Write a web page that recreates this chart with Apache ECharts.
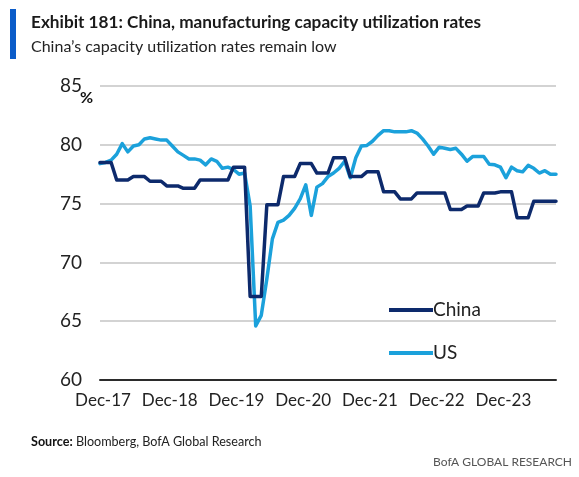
<!DOCTYPE html>
<html>
<head>
<meta charset="utf-8">
<script src="https://cdn.jsdelivr.net/npm/echarts@6/dist/echarts.min.js"></script>
<style>
html,body{margin:0;padding:0;background:#fff;}
#c{width:579px;height:477px;}
</style>
</head>
<body>
<div id="c"></div>
<script>
// ---- data ----
var monthNames = ['Jan','Feb','Mar','Apr','May','Jun','Jul','Aug','Sep','Oct','Nov','Dec'];
// monthly categories Dec-17 .. Oct-24
var categories = [];
(function(){
  var y = 2017, m = 11;
  for (var k = 0; k < 83; k++) {
    categories.push(monthNames[m] + '-' + String(y).slice(2));
    m++; if (m > 11) { m = 0; y++; }
  }
})();

var yTicks = [60, 65, 70, 75, 80, 85];

// China (quarterly, held monthly)
var china = [
  78.5, 78.5, 78.5,
  77.0, 77.0, 77.0,
  77.3, 77.3, 77.3,
  76.9, 76.9, 76.9,
  76.5, 76.5, 76.5,
  76.3, 76.3, 76.3,
  77.0, 77.0, 77.0,
  77.0, 77.0, 77.0,
  78.1, 78.1, 78.1,
  67.1, 67.1, 67.1,
  74.9, 74.9, 74.9,
  77.3, 77.3, 77.3,
  78.4, 78.4, 78.4,
  77.6, 77.6, 77.6,
  78.9, 78.9, 78.9,
  77.3, 77.3, 77.3,
  77.7, 77.7, 77.7,
  76.0, 76.0, 76.0,
  75.4, 75.4, 75.4,
  75.9, 75.9, 75.9,
  75.9, 75.9, 75.9,
  74.5, 74.5, 74.5,
  74.8, 74.8, 74.8,
  75.9, 75.9, 75.9,
  76.0, 76.0, 76.0,
  73.8, 73.8, 73.8,
  75.2, 75.2, 75.2,
  75.2, 75.2
];

// US (monthly)
var us = [
  78.4, 78.5, 78.7, 79.2, 80.1, 79.4, 79.9, 80.0, 80.5, 80.6, 80.5, 80.4,
  80.4, 79.9, 79.4, 79.1, 78.8, 78.8, 78.7, 78.3, 78.8, 78.6, 78.0, 78.1,
  77.9, 77.5, 77.6, 74.8, 64.6, 65.5, 68.6, 72.0, 73.4, 73.6, 74.0, 74.6,
  75.4, 76.6, 74.0, 76.4, 76.7, 77.3, 77.6, 78.0, 78.6, 77.2, 78.9, 79.9,
  79.95, 80.3, 80.8, 81.2, 81.2, 81.1, 81.1, 81.1, 81.2, 81.0, 80.5, 79.9,
  79.2, 79.8, 79.7, 79.6, 79.7, 79.2, 78.6, 79.0, 79.0, 79.0, 78.35, 78.3,
  78.1, 77.2, 78.1, 77.8, 77.7, 78.25, 78.0, 77.6, 77.8, 77.5, 77.5
];

var FONT = 'Lato, "Liberation Sans", sans-serif';
var chinaColor = '#0d2a6c';
var usColor = '#1ba1db';

var chart = echarts.init(document.getElementById('c'), null, {renderer: 'canvas'});
chart.setOption({
  animation: false,
  backgroundColor: '#ffffff',
  grid: {left: 100, right: 23, top: 86, bottom: 97, containLabel: false},
  xAxis: {
    type: 'category',
    data: categories,
    boundaryGap: false,
    axisLine: {show: true, lineStyle: {color: '#2b2b2b', width: 2}},
    axisTick: {show: false},
    axisLabel: {
      interval: function (i) { return i % 12 === 0; },
      fontFamily: FONT, fontSize: 17, color: '#222', margin: 12,
      padding: [0, 0, 0, 6]
    },
    splitLine: {show: false}
  },
  yAxis: {
    type: 'value',
    min: yTicks[0], max: yTicks[yTicks.length - 1], interval: 5,
    axisLine: {show: false},
    axisTick: {show: false},
    axisLabel: {fontFamily: FONT, fontSize: 19, color: '#222', margin: 18},
    splitLine: {show: true, lineStyle: {color: '#c4c4c4', width: 1.5}}
  },
  legend: {
    orient: 'vertical',
    left: 384, top: 295,
    itemWidth: 44, itemHeight: 4,
    itemGap: 23,
    icon: 'rect',
    textStyle: {fontFamily: FONT, fontSize: 19, color: '#222', lineHeight: 20, padding: [0,0,0,-5]},
    data: ['China', 'US']
  },
  series: [
    {name: 'US', type: 'line', data: us, showSymbol: false, symbol: 'none',
     lineStyle: {color: usColor, width: 3.5, cap: 'round', join: 'round'},
     itemStyle: {color: usColor}, z: 2},
    {name: 'China', type: 'line', data: china, showSymbol: false, symbol: 'none',
     lineStyle: {color: chinaColor, width: 3.5, cap: 'round', join: 'round'},
     itemStyle: {color: chinaColor}, z: 3}
  ],
  graphic: [
    {type: 'rect', shape: {x: 10, y: 9, width: 6, height: 50}, style: {fill: '#0b5cc9'}},
    {type: 'text', style: {x: 31, y: 14, text: 'Exhibit 181: China, manufacturing capacity utilization rates',
      font: 'bold 17.2px ' + FONT, fill: '#1a1a1a'}},
    {type: 'text', style: {x: 31, y: 39, text: 'China\u2019s capacity utilization rates remain low',
      font: '16px ' + FONT, fill: '#222'}},
    {type: 'text', style: {x: 80, y: 90, text: '%', font: 'bold 16px ' + FONT, fill: '#111'}},
    {type: 'text', style: {x: 31, y: 435, text: '{b|Source:} Bloomberg, BofA Global Research',
      rich: {b: {fontWeight: 'bold', fontFamily: FONT, fontSize: 12.6, fill: '#111'}},
      font: '12.6px ' + FONT, fill: '#222'}},
    {type: 'text', style: {x: 572, y: 456, text: 'BofA GLOBAL RESEARCH', align: 'right',
      font: '12px ' + FONT, fill: '#555'}}
  ]
});
</script>
</body>
</html>
